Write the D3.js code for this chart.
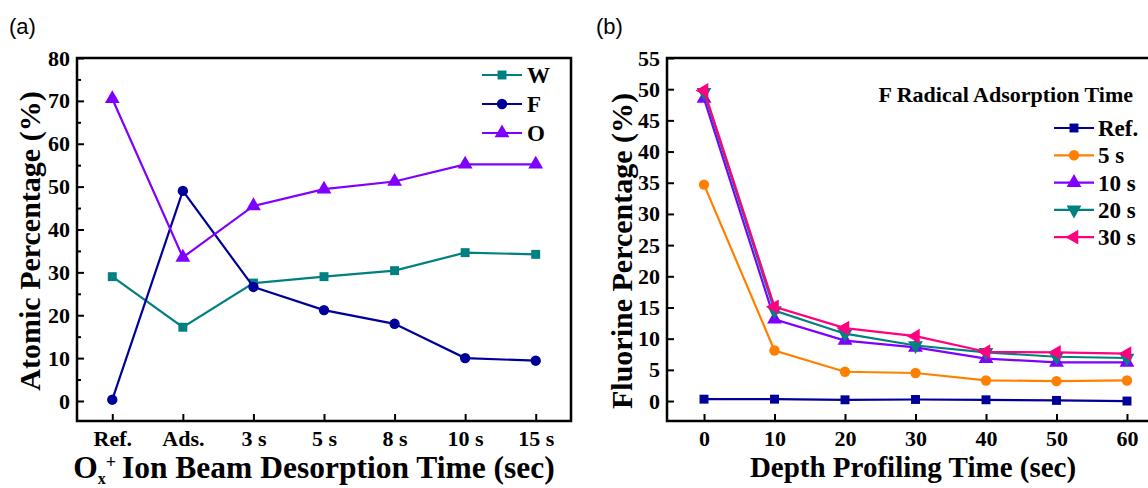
<!DOCTYPE html>
<html>
<head>
<meta charset="utf-8">
<script src="https://cdn.jsdelivr.net/npm/d3@7"></script>
<style>
  body { margin: 0; background: #fff; }
</style>
</head>
<body>
<svg id="chart" width="1148" height="488"></svg>
<script>
// panel (a) data
var catsA = ["Ref.", "Ads.", "3 s", "5 s", "8 s", "10 s", "15 s"];
var wVals = [29.0, 17.2, 27.5, 29.0, 30.4, 34.6, 34.2];
var fVals = [0.3, 49.0, 26.6, 21.2, 18.0, 10.0, 9.4];
var oVals = [70.5, 33.5, 45.5, 49.4, 51.2, 55.2, 55.2];

// panel (b) data
var timesB = [0, 10, 20, 30, 40, 50, 60];
var refVals = [0.3, 0.3, 0.2, 0.25, 0.2, 0.1, 0.0];
var s5Vals = [34.7, 8.1, 4.7, 4.5, 3.3, 3.2, 3.3];
var s10Vals = [48.5, 13.1, 9.7, 8.6, 6.8, 6.2, 6.2];
var s20Vals = [49.5, 14.5, 10.8, 8.9, 7.8, 7.1, 6.9];
var s30Vals = [49.8, 15.1, 11.7, 10.4, 7.9, 7.8, 7.6];

var SERIF = '"Liberation Serif", "Times New Roman", serif';
var svg = d3.select("#chart");

function serifText(sel, size) {
    return sel.style("font-family", SERIF).style("font-weight", "bold")
        .style("font-size", size + "px").style("fill", "#000");
}

// marker symbols
function marker(g, type, color, x, y) {
    var sym, size;
    if (type === "square") { sym = d3.symbolSquare; size = 80; }
    else if (type === "circle") { sym = d3.symbolCircle; size = 85; }
    else { sym = d3.symbolTriangle; size = 95; }
    var rot = 0;
    if (type === "down") rot = 180;
    if (type === "left") rot = -90;
    g.append("path")
        .attr("d", d3.symbol().type(sym).size(size)())
        .attr("transform", "translate(" + x + "," + y + ") rotate(" + rot + ")")
        .attr("fill", color);
}

function drawSeries(g, x, y, xs, vals, color, type) {
    var pts = xs.map(function(d, i) { return [x(d), y(vals[i])]; });
    g.append("path")
        .attr("d", d3.line()(pts))
        .attr("fill", "none")
        .attr("stroke", color)
        .attr("stroke-width", 2.2);
    pts.forEach(function(p) { marker(g, type, color, p[0], p[1]); });
}

function styleAxis(ax) {
    ax.select(".domain").remove();
    ax.selectAll("line").attr("stroke-width", 2);
    serifText(ax.selectAll("text"), 22);
}

// ---------- panel (a) ----------
var ax = d3.scaleLinear().domain([-0.5, 6.5]).range([77, 571]);
var ay = d3.scaleLinear().domain([-4.67, 80]).range([421, 58]);
var ga = svg.append("g");

var seriesA = [
    { name: "W", vals: wVals, color: "#008080", type: "square" },
    { name: "F", vals: fVals, color: "#000099", type: "circle" },
    { name: "O", vals: oVals, color: "#8000ff", type: "up" }
];
var idxA = catsA.map(function(d, i) { return i; });
seriesA.forEach(function(s) { drawSeries(ga, ax, ay, idxA, s.vals, s.color, s.type); });

// frame
ga.append("rect").attr("x", 77).attr("y", 58).attr("width", 494).attr("height", 363)
    .attr("fill", "none").attr("stroke", "#000").attr("stroke-width", 2.5);

// y axis a (inward ticks)
var yAxA = ga.append("g").attr("transform", "translate(77,0)")
    .call(d3.axisLeft(ay).tickValues(d3.range(0, 81, 10)).tickSizeInner(-7).tickSizeOuter(0).tickPadding(7));
styleAxis(yAxA);
ga.append("g").attr("transform", "translate(77,0)")
    .call(d3.axisLeft(ay).tickValues(d3.range(5, 80, 10)).tickSizeInner(-4).tickSizeOuter(0).tickFormat(""))
    .call(function(g) { g.select(".domain").remove(); g.selectAll("line").attr("stroke-width", 2); });

// x axis a
var xAxA = ga.append("g").attr("transform", "translate(0,421)")
    .call(d3.axisBottom(ax).tickValues(idxA).tickFormat(function(i) { return catsA[i]; })
        .tickSizeInner(-7).tickSizeOuter(0).tickPadding(9));
styleAxis(xAxA);

// titles a
serifText(svg.append("text"), 30).attr("transform", "translate(40,241) rotate(-90)")
    .attr("text-anchor", "middle").text("Atomic Percentage (%)");
var xt = serifText(svg.append("text"), 31.5).attr("x", 314).attr("y", 478).attr("text-anchor", "middle");
xt.append("tspan").text("O");
xt.append("tspan").style("font-size", "16px").attr("dy", 6).text("x");
xt.append("tspan").style("font-size", "18px").attr("dy", -16).attr("dx", 0).text("+");
xt.append("tspan").attr("dy", 10).attr("dx", -2).text(" Ion Beam Desorption Time (sec)");

// legend a
seriesA.forEach(function(s, i) {
    var yy = 75 + i * 29;
    ga.append("line").attr("x1", 482).attr("x2", 522).attr("y1", yy).attr("y2", yy)
        .attr("stroke", s.color).attr("stroke-width", 2.2);
    marker(ga, s.type, s.color, 502, yy);
    serifText(ga.append("text"), 23).attr("x", 527).attr("y", yy + 8).text(s.name);
});

svg.append("text").attr("x", 9).attr("y", 34)
    .style("font-family", '"Liberation Sans", Arial, sans-serif').style("font-size", "22px")
    .text("(a)");

// ---------- panel (b) ----------
var bx = d3.scaleLinear().domain([-5.25, 65.25]).range([667, 1164]);
var by = d3.scaleLinear().domain([-3.2, 55]).range([421, 58]);
var gb = svg.append("g");

var seriesB = [
    { name: "Ref.", vals: refVals, color: "#000099", type: "square" },
    { name: "5 s", vals: s5Vals, color: "#ff8000", type: "circle" },
    { name: "10 s", vals: s10Vals, color: "#8000ff", type: "up" },
    { name: "20 s", vals: s20Vals, color: "#008080", type: "down" },
    { name: "30 s", vals: s30Vals, color: "#ff0080", type: "left" }
];
seriesB.forEach(function(s) { drawSeries(gb, bx, by, timesB, s.vals, s.color, s.type); });

gb.append("rect").attr("x", 667).attr("y", 58).attr("width", 497).attr("height", 363)
    .attr("fill", "none").attr("stroke", "#000").attr("stroke-width", 2.5);

var yAxB = gb.append("g").attr("transform", "translate(667,0)")
    .call(d3.axisLeft(by).tickValues(d3.range(0, 56, 5)).tickSizeInner(-7).tickSizeOuter(0).tickPadding(7));
styleAxis(yAxB);

var xAxB = gb.append("g").attr("transform", "translate(0,421)")
    .call(d3.axisBottom(bx).tickValues(timesB).tickSizeInner(-7).tickSizeOuter(0).tickPadding(9));
styleAxis(xAxB);

serifText(svg.append("text"), 30).attr("transform", "translate(632,251) rotate(-90)")
    .attr("text-anchor", "middle").text("Fluorine Percentage (%)");
serifText(svg.append("text"), 29).attr("x", 913).attr("y", 477).attr("text-anchor", "middle")
    .text("Depth Profiling Time (sec)");

// legend b
serifText(gb.append("text"), 22).attr("x", 1133).attr("y", 102).attr("text-anchor", "end")
    .text("F Radical Adsorption Time");
seriesB.forEach(function(s, i) {
    var yy = 128 + i * 27.3;
    gb.append("line").attr("x1", 1054).attr("x2", 1094).attr("y1", yy).attr("y2", yy)
        .attr("stroke", s.color).attr("stroke-width", 2.2);
    marker(gb, s.type, s.color, 1074, yy);
    serifText(gb.append("text"), 23).attr("x", 1098).attr("y", yy + 8).text(s.name);
});

svg.append("text").attr("x", 596).attr("y", 34)
    .style("font-family", '"Liberation Sans", Arial, sans-serif').style("font-size", "22px")
    .text("(b)");
</script>
</body>
</html>
